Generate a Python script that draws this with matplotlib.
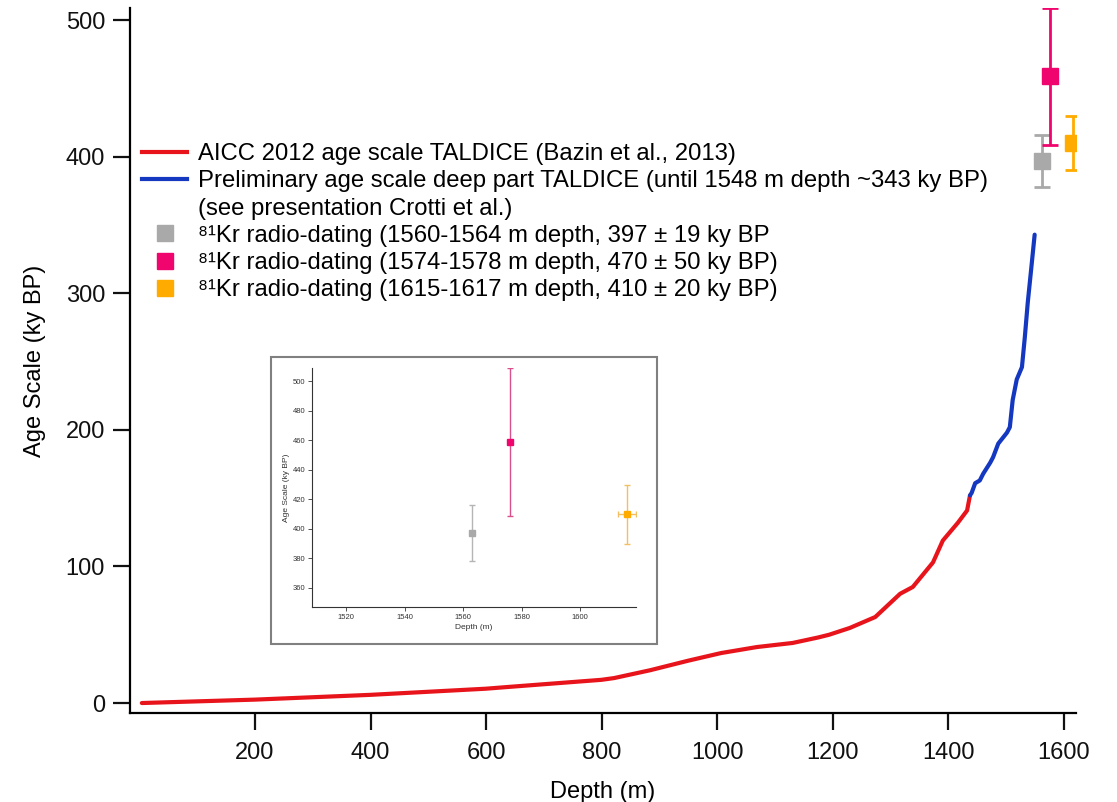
import matplotlib
matplotlib.use("Agg")
import matplotlib.pyplot as plt
from matplotlib.lines import Line2D
from matplotlib.patches import Rectangle

plt.rcParams['font.family'] = ['Liberation Sans', 'DejaVu Sans']

# ---- data ----
depth_aicc = [4, 200, 400, 600, 636, 800, 822, 884, 950, 1007, 1069, 1131, 1175,
              1194, 1230, 1274, 1317, 1339, 1374, 1391, 1417, 1433, 1438]
age_aicc = [0, 2.5, 6, 10.5, 11.7, 17, 18.3, 24, 31, 36.6, 41, 44, 48,
            50, 55, 63, 80, 85, 103, 119, 132, 141, 152]

depth_deep = [1438, 1441, 1447, 1455, 1461, 1473, 1478, 1487, 1502, 1507, 1512,
              1519, 1528, 1533, 1538, 1545, 1550]
age_deep = [152, 154, 161, 163, 168, 176, 180, 190, 198, 202, 222,
            237, 246, 268, 293, 322, 343]

kr_depth = [1563, 1576, 1616]
kr_age = [397, 459, 410]
kr_err = [19, 50, 20]
kr_depth_err = [0, 0, 3]
kr_colors = ['#a9a9a9', '#f0056e', '#ffab00']
kr_labels = ['\u2078\u00b9Kr radio-dating (1560-1564 m depth, 397 \u00b1 19 ky BP',
             '\u2078\u00b9Kr radio-dating (1574-1578 m depth, 470 \u00b1 50 ky BP)',
             '\u2078\u00b9Kr radio-dating (1615-1617 m depth, 410 \u00b1 20 ky BP)']
line_labels = ['AICC 2012 age scale TALDICE (Bazin et al., 2013)',
               'Preliminary age scale deep part TALDICE (until 1548 m depth ~343 ky BP)',
               '(see presentation Crotti et al.)']

x_ticks = [200, 400, 600, 800, 1000, 1200, 1400, 1600]
y_ticks = [0, 100, 200, 300, 400, 500]
inset_x_ticks = [1520, 1540, 1560, 1580, 1600]
inset_y_ticks = [360, 380, 400, 420, 440, 460, 480, 500]

# ---- figure ----
fig = plt.figure(figsize=(11.17, 8.02), dpi=100)
ax = fig.add_axes([130/1117, 1-713/802, (1076-130)/1117, (713-8)/802])

red = '#e8141c'
blue = '#1438c0'
ax.plot(depth_aicc, age_aicc, color=red, lw=3.0, solid_capstyle='round', zorder=3)
ax.plot(depth_deep, age_deep, color=blue, lw=3.0, solid_capstyle='round', zorder=3)

for d, a, e, c in zip(kr_depth, kr_age, kr_err, kr_colors):
    ax.errorbar(d, a, yerr=e, fmt='s', color=c, ms=12, elinewidth=2,
                capsize=6, capthick=2, zorder=4)

ax.set_xlim(-16.5, 1621.6)
ax.set_ylim(-7.3, 509)
ax.set_xticks(x_ticks)
ax.set_yticks(y_ticks)
for s in ['top', 'right']:
    ax.spines[s].set_visible(False)
for s in ['left', 'bottom']:
    ax.spines[s].set_linewidth(1.6)
ax.tick_params(direction='out', length=12, width=1.6, labelsize=17, colors='#111111')
ax.tick_params(axis='x', pad=9)
ax.tick_params(axis='y', pad=6)
ax.set_xlabel('Depth (m)', fontsize=17, labelpad=12)
ax.set_ylabel('Age Scale (ky BP)', fontsize=17, labelpad=14)

handles = [Line2D([], [], color=red, lw=3),
           Line2D([], [], color=blue, lw=3),
           Line2D([], [], color='none')]
for c in kr_colors:
    handles.append(Line2D([], [], color=c, marker='s', ls='none', ms=11))
labels = line_labels + kr_labels
fig.legend(handles, labels, loc='upper left', bbox_to_anchor=(142/1117, 1-143/802),
           frameon=False, fontsize=17.2, handlelength=1.9, handletextpad=0.45,
           labelspacing=0.22, borderpad=0, borderaxespad=0)

# ---- inset ----
frame = Rectangle((271/1117, 1-644/802), (657-271)/1117, (644-357)/802,
                  transform=fig.transFigure, facecolor='white', edgecolor='#808080',
                  lw=1.5, zorder=5)
fig.patches.append(frame)

iax = fig.add_axes([312/1117, 1-607/802, (636-312)/1117, (607-368)/802], zorder=6)
inset_bar_colors = ['#b5b5b5', '#d8508c', '#f2c060']
for d, a, e, de, c, bc in zip(kr_depth, kr_age, kr_err, kr_depth_err, kr_colors, inset_bar_colors):
    iax.errorbar(d, a, yerr=e, xerr=de if de else None, fmt='none', ecolor=bc,
                 elinewidth=1, capsize=2.5, capthick=1)
    iax.plot(d, a, 's', color=c, ms=4.5)
iax.set_xlim(1508.4, 1619)
iax.set_ylim(347, 509)
iax.set_xticks(inset_x_ticks)
iax.set_yticks(inset_y_ticks)
for s in ['top', 'right']:
    iax.spines[s].set_visible(False)
for s in ['left', 'bottom']:
    iax.spines[s].set_linewidth(0.8)
    iax.spines[s].set_color('#333333')
iax.tick_params(direction='out', length=3, width=0.6, labelsize=5.5, colors='#333333', pad=2)
iax.set_xlabel('Depth (m)', fontsize=6, labelpad=2, color='#333333')
iax.set_ylabel('Age Scale (ky BP)', fontsize=6, labelpad=2, color='#333333')

fig.savefig('out.png', dpi=100)
